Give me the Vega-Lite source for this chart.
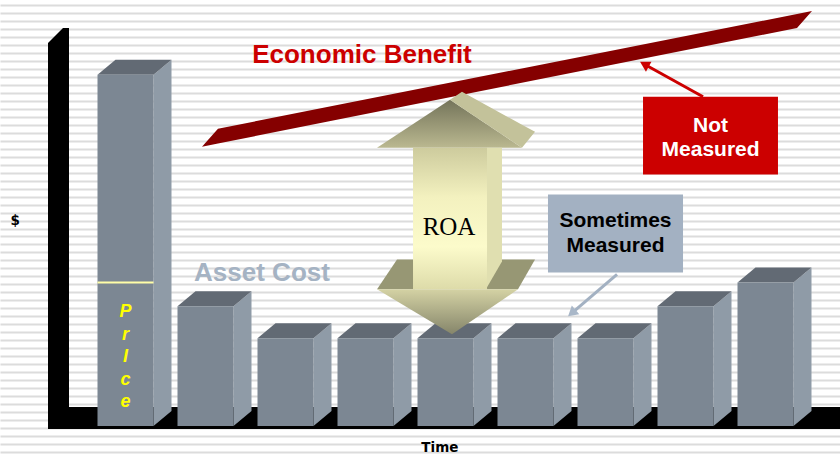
{
  "$schema": "https://vega.github.io/schema/vega-lite/v6.json",
  "width": 840,
  "height": 455,
  "autosize": {"type": "fit", "contains": "padding"},
  "padding": 0,
  "background": "white",
  "config": {"view": {"stroke": null}},
  "datasets": {
    "bars": [
      {"period": 1, "cost": 88, "price": 36},
      {"period": 2, "cost": 30},
      {"period": 3, "cost": 22},
      {"period": 4, "cost": 22},
      {"period": 5, "cost": 22},
      {"period": 6, "cost": 22},
      {"period": 7, "cost": 22},
      {"period": 8, "cost": 30},
      {"period": 9, "cost": 36}
    ],
    "frame": [
      {"shape": "floor", "time": 0.03125, "dollars": 4.75, "dollars2": -0.75},
      {"shape": "floor", "time": 9.93125, "dollars": 4.75, "dollars2": -0.75},
      {"shape": "wall", "time": 0.03125, "dollars": 96, "dollars2": -0.75},
      {"shape": "wall", "time": 0.21875, "dollars": 99.75, "dollars2": -0.75},
      {"shape": "wall", "time": 0.29375, "dollars": 99.75, "dollars2": -0.75}
    ],
    "benefit": [
      {"time": 1.956, "dollars": 70, "dollars2": 70},
      {"time": 2.156, "dollars": 74.5, "dollars2": 70.8},
      {"time": 9.394, "dollars": 103.25, "dollars2": 99.75},
      {"time": 9.581, "dollars": 104, "dollars2": 104}
    ],
    "roa": [
      {"part": "headTop", "time": 4.144, "dollars": 69.75, "dollars2": 69.75},
      {"part": "headTop", "time": 5.056, "dollars": 81.75, "dollars2": 69.75},
      {"part": "headTop", "time": 5.956, "dollars": 69.75, "dollars2": 69.75},
      {"part": "bevel", "time": 5.056, "dollars": 81.75, "dollars2": 81.75},
      {"part": "bevel", "time": 5.206, "dollars": 83.75, "dollars2": 79.75},
      {"part": "bevel", "time": 5.956, "dollars": 75.5, "dollars2": 69.75},
      {"part": "bevel", "time": 6.119, "dollars": 73.75, "dollars2": 73.75},
      {"part": "ledgeLeft", "time": 4.144, "dollars": 34.25, "dollars2": 34.25},
      {"part": "ledgeLeft", "time": 4.394, "dollars": 41.75, "dollars2": 34.25},
      {"part": "ledgeLeft", "time": 4.619, "dollars": 41.75, "dollars2": 34.25},
      {"part": "ledgeRight", "time": 5.519, "dollars": 41.75, "dollars2": 34.25},
      {"part": "ledgeRight", "time": 5.906, "dollars": 41.75, "dollars2": 34.25},
      {"part": "ledgeRight", "time": 6.119, "dollars": 41.75, "dollars2": 41.75},
      {"part": "shaftSide", "time": 5.519, "dollars": 69.75, "dollars2": 34.75},
      {"part": "shaftSide", "time": 5.706, "dollars": 69.75, "dollars2": 41.25},
      {"part": "shaft", "time": 4.594, "dollars": 69.75, "dollars2": 34.25},
      {"part": "shaft", "time": 5.519, "dollars": 69.75, "dollars2": 34.25},
      {"part": "headBottom", "time": 4.144, "dollars": 34.25, "dollars2": 34.25},
      {"part": "headBottom", "time": 5.081, "dollars": 34.25, "dollars2": 23},
      {"part": "headBottom", "time": 5.906, "dollars": 34.25, "dollars2": 34.25}
    ],
    "boxes": [
      {"kind": "not", "time": 7.469, "time2": 9.156, "dollars": 82.5, "dollars2": 63},
      {"kind": "sometimes", "time": 6.281, "time2": 7.969, "dollars": 58, "dollars2": 38.5}
    ],
    "pointers": [
      {"kind": "not", "end": "tail", "time": 8.219, "dollars": 82.5},
      {"kind": "not", "end": "head", "time": 7.486, "dollars": 90.65},
      {"kind": "sometimes", "end": "tail", "time": 7.144, "dollars": 38},
      {"kind": "sometimes", "end": "head", "time": 6.579, "dollars": 28.3}
    ]
  },
  "encoding": {
    "x": {"field": "time", "type": "quantitative", "scale": {"domain": [-0.56875, 9.93125], "nice": false, "zero": false}, "axis": null},
    "y": {"field": "dollars", "type": "quantitative", "stack": null, "scale": {"domain": [-7, 106.75], "nice": false, "zero": false},
      "axis": {"grid": true, "gridColor": "#dcdcdc", "gridWidth": 2.2, "labels": false, "ticks": false, "domain": false, "title": null, "tickCount": 57, "tickOffset": 2}}
  },
  "layer": [
    {
      "data": {"name": "frame"},
      "mark": {"type": "area", "color": "#000000", "opacity": 1},
      "encoding": {"y2": {"field": "dollars2"}, "detail": {"field": "shape"}}
    },
    {
      "data": {"name": "bars"},
      "transform": [
        {"calculate": "[0,1]", "as": "k"},
        {"flatten": ["k"]},
        {"calculate": "datum.period + 0.35 + 0.225 * datum.k", "as": "time"},
        {"calculate": "datum.cost + 3.75 * datum.k", "as": "dollars"},
        {"calculate": "3.75 * datum.k", "as": "dollars2"}
      ],
      "mark": {"type": "area", "color": "#8f9ba7", "opacity": 1},
      "encoding": {"y2": {"field": "dollars2"}, "detail": {"field": "period"}}
    },
    {
      "data": {"name": "bars"},
      "transform": [
        {"calculate": "[0,1,2,3]", "as": "k"},
        {"flatten": ["k"]},
        {"calculate": "datum.period - 0.35 + [0, 0.225, 0.7, 0.925][datum.k]", "as": "time"},
        {"calculate": "datum.cost + (datum.k == 0 ? 0 : 3.75)", "as": "dollars"},
        {"calculate": "datum.cost + (datum.k == 3 ? 3.75 : 0)", "as": "dollars2"}
      ],
      "mark": {"type": "area", "color": "#626a74", "opacity": 1},
      "encoding": {"y2": {"field": "dollars2"}, "detail": {"field": "period"}}
    },
    {
      "data": {"name": "bars"},
      "transform": [
        {"calculate": "datum.period - 0.35", "as": "time"},
        {"calculate": "datum.period + 0.35", "as": "time2"},
        {"calculate": "datum.cost", "as": "dollars"},
        {"calculate": "0", "as": "dollars2"}
      ],
      "mark": {"type": "rect", "color": "#7c8793"},
      "encoding": {"x2": {"field": "time2"}, "y2": {"field": "dollars2"}}
    },
    {
      "data": {"name": "bars"},
      "transform": [
        {"filter": "isValid(datum.price)"},
        {"calculate": "datum.period - 0.35", "as": "time"},
        {"calculate": "datum.period + 0.35", "as": "time2"},
        {"calculate": "datum.price", "as": "dollars"}
      ],
      "mark": {"type": "rule", "color": "#fffea8", "strokeWidth": 2},
      "encoding": {"x2": {"field": "time2"}}
    },
    {
      "data": {"values": [{"label": ["P", "r", "I", "c", "e"], "time": 1.0, "dollars": 27.25}]},
      "mark": {"type": "text", "color": "#ffff00", "font": "Liberation Sans", "fontWeight": "bold", "fontStyle": "italic", "fontSize": 18, "lineHeight": 22.5, "align": "center", "baseline": "alphabetic"},
      "encoding": {"text": {"field": "label"}}
    },
    {
      "data": {"name": "benefit"},
      "mark": {"type": "area", "color": "#850000", "opacity": 1},
      "encoding": {"y2": {"field": "dollars2"}}
    },
    {
      "data": {"name": "roa"},
      "transform": [{"filter": "datum.part == 'headTop'"}],
      "mark": {"type": "area", "opacity": 1, "fill": {"gradient": "linear", "x1": 0, "y1": 0, "x2": 0, "y2": 1, "stops": [{"offset": 0, "color": "#74745a"}, {"offset": 1, "color": "#bab890"}]}},
      "encoding": {"y2": {"field": "dollars2"}}
    },
    {
      "data": {"name": "roa"},
      "transform": [{"filter": "datum.part == 'bevel'"}],
      "mark": {"type": "area", "opacity": 1, "color": "#c3c29a"},
      "encoding": {"y2": {"field": "dollars2"}}
    },
    {
      "data": {"name": "roa"},
      "transform": [{"filter": "datum.part == 'ledgeLeft' || datum.part == 'ledgeRight'"}],
      "mark": {"type": "area", "opacity": 1, "color": "#979774"},
      "encoding": {"y2": {"field": "dollars2"}, "detail": {"field": "part"}}
    },
    {
      "data": {"name": "roa"},
      "transform": [{"filter": "datum.part == 'shaftSide'"}],
      "mark": {"type": "area", "opacity": 1, "color": "#e0dfb0"},
      "encoding": {"y2": {"field": "dollars2"}}
    },
    {
      "data": {"name": "roa"},
      "transform": [{"filter": "datum.part == 'shaft'"}],
      "mark": {"type": "area", "opacity": 1, "fill": {"gradient": "linear", "x1": 0, "y1": 0, "x2": 0, "y2": 1, "stops": [{"offset": 0, "color": "#cdcb9d"}, {"offset": 0.35, "color": "#f3f1bf"}, {"offset": 0.7, "color": "#fcfbcb"}, {"offset": 1, "color": "#dddba9"}]}},
      "encoding": {"y2": {"field": "dollars2"}}
    },
    {
      "data": {"name": "roa"},
      "transform": [{"filter": "datum.part == 'headBottom'"}],
      "mark": {"type": "area", "opacity": 1, "fill": {"gradient": "linear", "x1": 0, "y1": 0, "x2": 0, "y2": 1, "stops": [{"offset": 0, "color": "#d4d2a4"}, {"offset": 1, "color": "#85856a"}]}},
      "encoding": {"y2": {"field": "dollars2"}}
    },
    {
      "data": {"values": [{"label": "ROA", "time": 5.044, "dollars": 47.75}]},
      "mark": {"type": "text", "color": "#000000", "font": "Liberation Serif", "fontSize": 25, "align": "center", "baseline": "alphabetic"},
      "encoding": {"text": {"field": "label"}}
    },
    {
      "data": {"name": "boxes"},
      "mark": {"type": "rect", "opacity": 1},
      "encoding": {
        "x2": {"field": "time2"},
        "y2": {"field": "dollars2"},
        "color": {"field": "kind", "type": "nominal", "scale": {"domain": ["not", "sometimes"], "range": ["#cc0000", "#a3b1c2"]}, "legend": null}
      }
    },
    {
      "data": {"name": "pointers"},
      "mark": {"type": "line", "strokeWidth": 3},
      "encoding": {
        "detail": {"field": "kind"},
        "color": {"field": "kind", "type": "nominal", "scale": {"domain": ["not", "sometimes"], "range": ["#cc0000", "#a9b7c8"]}, "legend": null}
      }
    },
    {
      "data": {"name": "pointers"},
      "transform": [{"filter": "datum.kind == 'not' && datum.end == 'head'"}],
      "mark": {"type": "point", "shape": "triangle-up", "filled": true, "opacity": 1, "size": 130, "angle": 299, "color": "#cc0000"},
      "encoding": {}
    },
    {
      "data": {"name": "pointers"},
      "transform": [{"filter": "datum.kind == 'sometimes' && datum.end == 'head'"}],
      "mark": {"type": "point", "shape": "triangle-up", "filled": true, "opacity": 1, "size": 130, "angle": 229, "color": "#a9b7c8"},
      "encoding": {}
    },
    {
      "data": {"values": [{"label": ["Not", "Measured"], "time": 8.313, "dollars": 73.8}]},
      "mark": {"type": "text", "color": "#ffffff", "font": "Liberation Sans", "fontWeight": "bold", "fontSize": 21, "lineHeight": 24.3, "align": "center", "baseline": "alphabetic"},
      "encoding": {"text": {"field": "label"}}
    },
    {
      "data": {"values": [{"label": ["Sometimes", "Measured"], "time": 7.125, "dollars": 49.75}]},
      "mark": {"type": "text", "color": "#000000", "font": "Liberation Sans", "fontWeight": "bold", "fontSize": 21, "lineHeight": 25, "align": "center", "baseline": "alphabetic"},
      "encoding": {"text": {"field": "label"}}
    },
    {
      "data": {"values": [{"label": "Economic Benefit", "time": 3.956, "dollars": 91}]},
      "mark": {"type": "text", "color": "#cc0000", "font": "Liberation Sans", "fontWeight": "bold", "fontSize": 26, "align": "center", "baseline": "alphabetic"},
      "encoding": {"text": {"field": "label"}}
    },
    {
      "data": {"values": [{"label": "Asset Cost", "time": 2.706, "dollars": 36.25}]},
      "mark": {"type": "text", "color": "#a5b3c3", "font": "Liberation Sans", "fontWeight": "bold", "fontSize": 26, "align": "center", "baseline": "alphabetic"},
      "encoding": {"text": {"field": "label"}}
    },
    {
      "data": {"values": [{"label": "$", "time": -0.38, "dollars": 50.5}, {"label": "Time", "time": 4.93, "dollars": -6.5}]},
      "mark": {"type": "text", "color": "#000000", "font": "DejaVu Sans", "fontWeight": "bold", "fontSize": 13.5, "align": "center", "baseline": "alphabetic"},
      "encoding": {"text": {"field": "label"}}
    }
  ]
}
